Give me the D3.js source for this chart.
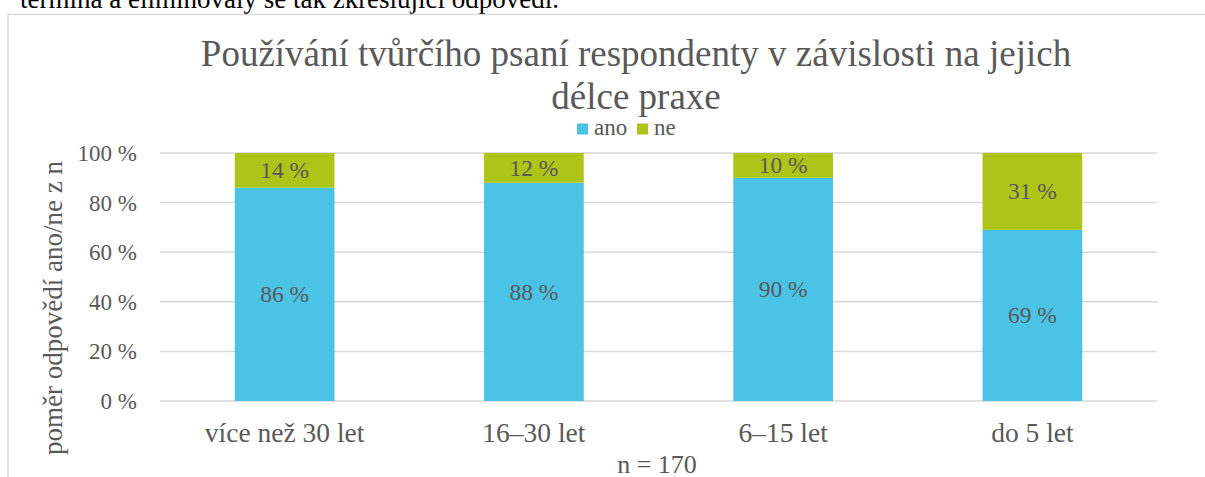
<!DOCTYPE html>
<html><head><meta charset="utf-8">
<script src="https://cdn.jsdelivr.net/npm/d3@7"></script>
<style>body{margin:0;background:#fff}svg{display:block;font-family:"Liberation Serif","Times New Roman",serif}text{font-family:"Liberation Serif","Times New Roman",serif}</style>
</head><body>
<svg id="c" width="1205" height="477"></svg>
<script>
const categories = ["více než 30 let", "16–30 let", "6–15 let", "do 5 let"];
const ano = [86, 88, 90, 69];
const ne = [14, 12, 10, 31];
const yTicks = [0, 20, 40, 60, 80, 100];
const seriesNames = ["ano", "ne"];
const colors = {ano: "#4BC3E7", ne: "#ADC418"};
const titleLines = ["Používání tvůrčího psaní respondenty v závislosti na jejich", "délce praxe"];

const svg = d3.select("#c");
const txt = "#595959";

// text cut at top from the document
svg.append("text").attr("x", 20).attr("y", 7.5).attr("font-size", 27).attr("fill", "#000")
  .text("termína a eliminovaly se tak zkreslující odpovědi.");

// chart frame
svg.append("rect").attr("x", 8).attr("y", 14.5).attr("width", 1220).attr("height", 500)
  .attr("fill", "none").attr("stroke", "#D9D9D9").attr("stroke-width", 1.5);

const x = d3.scaleBand().domain(categories).range([160, 1157]).paddingInner(0.6).paddingOuter(0.3);
const y = d3.scaleLinear().domain([0, 100]).range([401, 153]);

// gridlines
svg.append("g").selectAll("line").data(yTicks).join("line")
  .attr("x1", 160).attr("x2", 1157).attr("y1", d => y(d)).attr("y2", d => y(d))
  .attr("stroke", "#D9D9D9").attr("stroke-width", 1.5);

// y axis labels
const yAxis = svg.append("g").attr("transform", "translate(137,0)")
  .call(d3.axisLeft(y).tickValues(yTicks).tickSize(0).tickPadding(0).tickFormat(d => d + " %"));
yAxis.select(".domain").remove();
yAxis.selectAll("text").attr("font-size", 23).attr("fill", txt).attr("dy", "0.33em");

// x axis labels
const xAxis = svg.append("g").attr("transform", "translate(0,401)")
  .call(d3.axisBottom(x).tickSize(0).tickPadding(0));
xAxis.select(".domain").remove();
xAxis.selectAll("text").attr("font-size", 27.5).attr("fill", txt).attr("dy", null).attr("y", 41);

// stacked bars
const data = categories.map((c, i) => ({cat: c, ano: ano[i], ne: ne[i]}));
const stack = d3.stack().keys(seriesNames)(data);
stack.forEach(s => {
  const g = svg.append("g");
  g.selectAll("rect").data(s).join("rect")
    .attr("x", d => x(d.data.cat)).attr("width", x.bandwidth())
    .attr("y", d => y(d[1])).attr("height", d => y(d[0]) - y(d[1]))
    .attr("fill", colors[s.key]);
  g.selectAll("text").data(s).join("text")
    .attr("x", d => x(d.data.cat) + x.bandwidth() / 2)
    .attr("y", d => (y(d[0]) + y(d[1])) / 2)
    .attr("dy", "0.33em").attr("text-anchor", "middle")
    .attr("font-size", 23.5).attr("fill", txt)
    .text(d => d.data[s.key] + " %");
});

// title
svg.append("g").selectAll("text").data(titleLines).join("text")
  .attr("x", 636).attr("y", (d, i) => 66 + i * 43).attr("text-anchor", "middle")
  .attr("font-size", 37).attr("fill", txt).text(d => d);

// legend
const leg = svg.append("g");
const legX = [577, 637];
seriesNames.forEach((s, i) => {
  leg.append("rect").attr("x", legX[i]).attr("y", 123.5).attr("width", 11).attr("height", 11).attr("fill", colors[s]);
  leg.append("text").attr("x", legX[i] + 17).attr("y", 135).attr("font-size", 23).attr("fill", txt).text(s);
});

// axis title
svg.append("text").attr("transform", "translate(62,308) rotate(-90)").attr("text-anchor", "middle")
  .attr("font-size", 27).attr("fill", txt).text("poměr odpovědí ano/ne z n");

// n
svg.append("text").attr("x", 657).attr("y", 473).attr("text-anchor", "middle")
  .attr("font-size", 26).attr("fill", txt).text("n = 170");
</script>
</body></html>
